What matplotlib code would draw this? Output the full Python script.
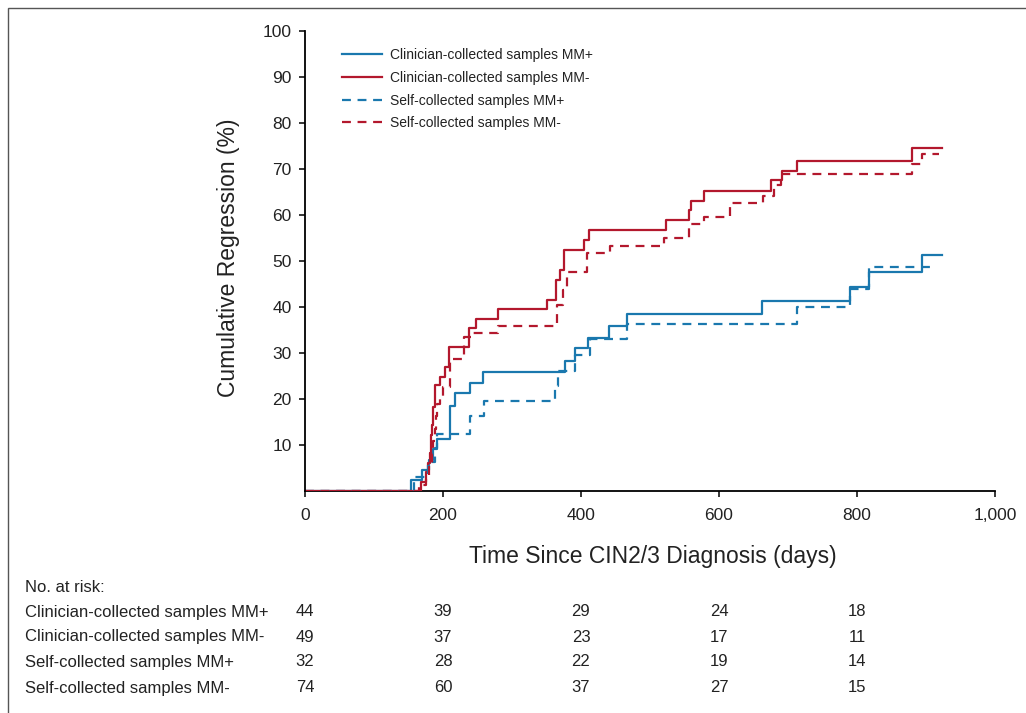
import matplotlib
matplotlib.use('Agg')
import matplotlib.pyplot as plt
import matplotlib.transforms as mtransforms
from matplotlib.patches import Rectangle

plt.rcParams['font.family'] = ['Liberation Sans', 'DejaVu Sans']

# days / cumulative regression (%), step curves
clin_pos_t = [0, 153, 169, 180, 186, 192, 210, 217, 239, 258, 377, 391, 410, 441, 466, 663, 790, 818, 894, 923]
clin_pos_y = [0, 2.3, 4.6, 6.8, 9.1, 11.4, 18.5, 21.3, 23.5, 25.9, 28.3, 31.1, 33.3, 35.9, 38.4, 41.2, 44.3, 47.6, 51.3, 51.3]

clin_neg_t = [0, 168, 175, 178, 181, 183, 184, 186, 189, 196, 203, 209, 238, 248, 280, 351, 364, 369, 376, 404, 412, 523, 556, 560, 578, 675, 692, 713, 880, 923]
clin_neg_y = [0, 2.0, 4.1, 6.1, 8.2, 12.2, 14.3, 18.3, 23.0, 24.8, 27.0, 31.2, 35.4, 37.4, 39.5, 41.5, 45.9, 48.0, 52.4, 54.6, 56.7, 58.9, 61.0, 63.1, 65.3, 67.5, 69.6, 71.7, 74.6, 74.6]

self_pos_t = [0, 158, 178, 188, 192, 239, 259, 362, 366, 391, 413, 467, 713, 790, 818, 914]
self_pos_y = [0, 3.1, 6.3, 9.4, 12.5, 16.2, 19.6, 22.8, 26.0, 29.6, 33.0, 36.4, 39.9, 43.9, 48.6, 48.6]

self_neg_t = [0, 165, 175, 180, 184, 186, 188, 190, 192, 196, 200, 210, 230, 243, 280, 365, 374, 380, 408, 442, 521, 557, 578, 616, 664, 680, 690, 880, 894, 919]
self_neg_y = [0, 1.4, 2.7, 5.4, 8.1, 10.8, 13.5, 16.2, 18.9, 20.5, 22.7, 28.8, 33.4, 34.3, 35.9, 40.4, 43.7, 47.7, 51.8, 53.3, 54.9, 58.0, 59.5, 62.7, 64.2, 66.5, 68.9, 71.1, 73.2, 73.2]

risk_days = [0, 200, 400, 600, 800]
risk_labels = ['Clinician-collected samples MM+', 'Clinician-collected samples MM-',
               'Self-collected samples MM+', 'Self-collected samples MM-']
risk_counts = [[44, 39, 29, 24, 18],
               [49, 37, 23, 17, 11],
               [32, 28, 22, 19, 14],
               [74, 60, 37, 27, 15]]

blue = '#1a78ae'
red = '#b3182d'
txt = '#222222'

fig = plt.figure(figsize=(10.26, 7.13), dpi=100)
ax = fig.add_axes([305 / 1026, 1 - 491 / 713, 690 / 1026, 460 / 713])

ax.step(clin_pos_t, clin_pos_y, where='post', color=blue, lw=1.6, label='Clinician-collected samples MM+')
ax.step(clin_neg_t, clin_neg_y, where='post', color=red, lw=1.6, label='Clinician-collected samples MM-')
ax.step(self_pos_t, self_pos_y, where='post', color=blue, lw=1.6, ls=(0, (4, 3)), label='Self-collected samples MM+')
ax.step(self_neg_t, self_neg_y, where='post', color=red, lw=1.6, ls=(0, (4, 3)), label='Self-collected samples MM-')

ax.set_xlim(0, 1000)
ax.set_ylim(0, 100)
ax.set_xticks([0, 200, 400, 600, 800, 1000])
ax.set_xticklabels(['0', '200', '400', '600', '800', '1,000'])
ax.set_yticks(range(10, 101, 10))
ax.spines['top'].set_visible(False)
ax.spines['right'].set_visible(False)
ax.spines['left'].set_linewidth(1.3)
ax.spines['bottom'].set_linewidth(1.3)
ax.spines['bottom'].set_zorder(0)
ax.tick_params(axis='both', direction='out', length=4.5, width=1.1, labelsize=12.5, colors='black', labelcolor=txt)
ax.tick_params(axis='x', pad=8)
ax.tick_params(axis='y', pad=5)

leg = ax.legend(loc='upper left', bbox_to_anchor=(0.035, 0.99), frameon=False, fontsize=10,
                handlelength=2.9, handletextpad=0.55, labelspacing=0.63)
for t in leg.get_texts():
    t.set_color(txt)

fig.text(228 / 1026, 1 - 258 / 713, 'Cumulative Regression (%)', rotation=90, ha='center', va='center',
         fontsize=16.5, color=txt)
fig.text(653 / 1026, 1 - 556 / 713, 'Time Since CIN2/3 Diagnosis (days)', ha='center', va='center',
         fontsize=16.5, color=txt)

fig.text(25 / 1026, 1 - 588 / 713, 'No. at risk:', ha='left', va='center', fontsize=12, color=txt)
trans = mtransforms.blended_transform_factory(ax.transData, fig.transFigure)
row_y = [612, 637, 662, 688]
for lab, counts, yy in zip(risk_labels, risk_counts, row_y):
    fig.text(25 / 1026, 1 - yy / 713, lab, ha='left', va='center', fontsize=12, color=txt)
    for d, c in zip(risk_days, counts):
        ax.text(d, 1 - yy / 713, str(c), transform=trans, ha='center', va='center', fontsize=12, color=txt)

fig.patches.append(Rectangle((8 / 1026, -0.1), 1.2, 1 - 8 / 713 + 0.1, transform=fig.transFigure,
                             fill=False, edgecolor='#555555', lw=1.0))

fig.savefig('out.png', dpi=100)
